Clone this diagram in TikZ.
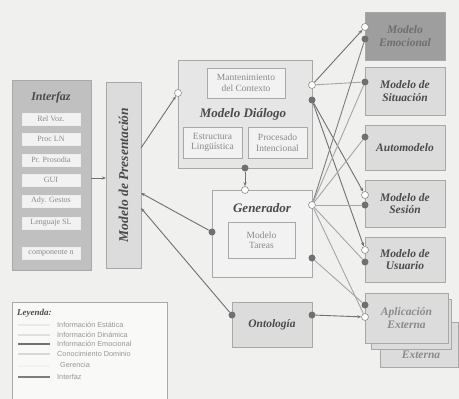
\documentclass[tikz,border=0pt]{standalone}
\usepackage{fontspec}
\setmainfont{Liberation Serif}
\newfontfamily\legfont{Liberation Sans}
\usetikzlibrary{arrows.meta}
\definecolor{bgc}{HTML}{F0F0EE}
\definecolor{boxline}{HTML}{A8A8A8}
\definecolor{boxfill}{HTML}{DCDCDC}
\definecolor{lightfill}{HTML}{E6E6E6}
\definecolor{innerfill}{HTML}{F2F2F2}
\definecolor{darkfill}{HTML}{C0C0C0}
\definecolor{emofill}{HTML}{9E9E9E}
\definecolor{txt}{HTML}{4A4A4A}
\definecolor{softtxt}{HTML}{8A8A8A}
\definecolor{linec}{HTML}{A6A6A6}
\definecolor{dotc}{HTML}{707070}
\tikzset{
  box/.style={draw=boxline, line width=0.9pt, fill=boxfill, inner sep=1pt, align=center,
    font=\fontsize{11.5}{12.5}\selectfont\bfseries\itshape, text=txt},
  inbox/.style={draw=boxline, line width=0.7pt, fill=innerfill, inner sep=1pt, align=center,
    font=\fontsize{9.5}{10.5}\selectfont, text=softtxt},
  ifbox/.style={draw=white!80!boxline, line width=0.6pt, fill=innerfill, inner sep=0pt,
    minimum width=58pt, minimum height=12pt, font=\fontsize{8}{9}\selectfont, text=softtxt},
  ddot/.style={circle, fill=dotc, inner sep=0pt, minimum size=7pt},
  wdot/.style={circle, draw=dotc!80, line width=0.6pt, fill=white, inner sep=0pt, minimum size=7pt},
  conn/.style={draw=linec, line width=0.9pt},
  tip/.style={-{Stealth[length=4pt,width=3pt]}, dotc},
  legline/.style={line width=1.2pt},
  legtxt/.style={anchor=west, inner sep=0pt, font=\legfont\fontsize{7.3}{8}\selectfont, text=softtxt!90}
}
\begin{document}
\begin{tikzpicture}[x=1pt,y=-1pt]
\fill[bgc] (0,0) rectangle (459,399);
\useasboundingbox (0,0) rectangle (459,399);
\begin{scope}
\clip (0,0) rectangle (459,399);

% Interfaz
\node[box, fill=darkfill, minimum width=79pt, minimum height=190pt] (interfaz) at (51.5,175) {};
\node[font=\fontsize{12}{13}\selectfont\bfseries\itshape, text=txt] (iftitle) at (51,98) {Interfaz};
\node[ifbox] (if1) at (51,119) {Rel Voz.};
\node[ifbox] (if2) at (51,139) {Proc LN};
\node[ifbox] (if3) at (51,160) {Pr. Prosodia};
\node[ifbox] (if4) at (51,180) {GUI};
\node[ifbox] (if5) at (51,201) {Ady. Gestos};
\node[ifbox] (if6) at (51,223) {Lenguaje SL};
\node[ifbox] (if7) at (51,253) {componente n};

% Presentacion
\node[box, minimum width=35pt, minimum height=186pt] (pres) at (123.5,175) {};
\node[rotate=90, font=\fontsize{13.5}{14}\selectfont\bfseries\itshape, text=txt] (prestxt) at (123.5,175) {Modelo de Presentación};

% Dialogo
\node[box, fill=lightfill, minimum width=134pt, minimum height=108pt] (dia) at (245,114) {};
\node[inbox, minimum width=78pt, minimum height=30pt] (mant) at (246,83) {Mantenimiento\\del Contexto};
\node[font=\fontsize{13}{14}\selectfont\bfseries\itshape, text=txt] (diatxt) at (243,114) {Modelo Diálogo};
\node[inbox, minimum width=59pt, minimum height=31pt] (estr) at (212.5,142.5) {Estructura\\Lingüística};
\node[inbox, minimum width=59pt, minimum height=31pt] (proc) at (277.5,142.5) {Procesado\\Intencional};

% Generador
\node[box, fill=innerfill, minimum width=100pt, minimum height=87pt] (gen) at (262,233.5) {};
\node[font=\fontsize{13}{14}\selectfont\bfseries\itshape, text=txt] (gentxt) at (262,208) {Generador};
\node[inbox, minimum width=67pt, minimum height=36pt] (tareas) at (261.5,240) {Modelo\\Tareas};

% Ontologia
\node[box, minimum width=80pt, minimum height=45pt] (ont) at (272,324.5) {Ontología};

% Right column
\node[box, fill=emofill, text=txt!80, minimum width=80pt, minimum height=48pt] (emo) at (405,36) {Modelo\\Emocional};
\node[box, minimum width=80pt, minimum height=48pt] (sit) at (405,91) {Modelo de\\Situación};
\node[box, minimum width=80pt, minimum height=45pt] (auto) at (405,147.5) {Automodelo};
\node[box, minimum width=80pt, minimum height=47pt] (ses) at (405,203.5) {Modelo de\\Sesión};
\node[box, minimum width=80pt, minimum height=45pt] (usu) at (405,259.5) {Modelo de\\Usuario};
\node[box, minimum width=78pt, minimum height=45pt] (apl3) at (419,344.5) {};
\node[font=\fontsize{11.5}{12.5}\selectfont\bfseries\itshape, text=softtxt] (apl3txt) at (421,355) {Externa};
\node[box, minimum width=80pt, minimum height=50pt] (apl2) at (411,324) {};
\node[box, text=softtxt, minimum width=83pt, minimum height=50pt] (apl) at (406.5,318) {Aplicación\\Externa};

% Legend
\node[draw=boxline, line width=0.8pt, fill=white!60!bgc, minimum width=155pt, minimum height=110pt, inner sep=0pt] (leg) at (89.5,357) {};
\node[anchor=west, inner sep=0pt, font=\fontsize{9}{10}\selectfont\bfseries\itshape, text=txt] (legt) at (17,313) {Leyenda:};
\coordinate (l1a) at (18,325); \coordinate (l1b) at (50,325);
\coordinate (l2a) at (18,335); \coordinate (l2b) at (50,335);
\coordinate (l3a) at (18,344); \coordinate (l3b) at (50,344);
\coordinate (l4a) at (18,354); \coordinate (l4b) at (50,354);
\coordinate (l5a) at (18,366); \coordinate (l5b) at (50,366);
\coordinate (l6a) at (18,377); \coordinate (l6b) at (50,377);
\draw[legline, draw=white!75!linec] (l1a) -- (l1b);
\draw[legline, draw=white!65!linec] (l2a) -- (l2b);
\draw[legline, draw=dotc] (l3a) -- (l3b);
\draw[legline, draw=white!55!linec] (l4a) -- (l4b);
\draw[legline, draw=white!85!linec] (l5a) -- (l5b);
\draw[legline, draw=dotc!90] (l6a) -- (l6b);
\node[legtxt] (lt1) at (57,325) {Información Estática};
\node[legtxt] (lt2) at (57,335) {Información Dinámica};
\node[legtxt] (lt3) at (57,344) {Información Emocional};
\node[legtxt] (lt4) at (57,354) {Conocimiento Dominio};
\node[legtxt] (lt5) at (60,365) {Gerencia};
\node[legtxt] (lt6) at (57,377) {Interfaz};

% Connection points
\coordinate (ifr) at (91,178);
\coordinate (presl) at (106,178);
\coordinate (p1) at (141,148);
\coordinate (p2) at (141,193);
\coordinate (p3) at (141,208);
\node[wdot] (dial) at (178,93) {};
\node[ddot] (genl) at (212,232) {};
\node[ddot] (ontl) at (232,315) {};
\node[ddot] (diab) at (245,168) {};
\node[wdot] (gent) at (245,190) {};
\node[wdot] (diaw) at (312,85) {};
\node[ddot] (diad) at (312,100) {};
\node[wdot] (genw) at (312,205) {};
\node[ddot] (gend) at (312,258) {};
\node[ddot] (ontr) at (312,315) {};
\node[wdot] (emow) at (365,27) {};
\node[ddot] (emod) at (365,39) {};
\node[ddot] (sitd) at (365,82) {};
\node[ddot] (autod) at (365,137) {};
\node[wdot] (sesw) at (365,195) {};
\node[ddot] (sesd) at (365,205) {};
\node[wdot] (usuw) at (365,250) {};
\node[ddot] (usud) at (365,262) {};
\node[ddot] (apld) at (365,305) {};
\node[wdot] (aplw) at (365,317) {};

% Connectors
\draw[conn, tip] (ifr) -- (presl);
\draw[conn, tip] (p1) -- (dial);
\draw[conn, {Stealth[length=4pt,width=3pt]}-, dotc] (p2) -- (genl);
\draw[conn, {Stealth[length=4pt,width=3pt]}-, dotc] (p3) -- (ontl);
\draw[conn, draw=linec!80!black, tip] (diab) -- (gent);
\draw[conn, draw=dotc, tip] (diaw) -- (emow);
\draw[conn] (diaw) -- (sitd);
\draw[conn, tip] (diad) -- (sesw);
\draw[conn, tip] (diad) -- (usuw);
\draw[conn, draw=dotc!90] (genw) -- (emod);
\draw[conn] (genw) -- (sitd);
\draw[conn] (genw) -- (autod);
\draw[conn] (genw) -- (sesd);
\draw[conn] (genw) -- (usud);
\draw[conn] (genw) -- (aplw);
\draw[conn] (gend) -- (apld);
\draw[conn, tip] (ontr) -- (aplw);
\end{scope}
\end{tikzpicture}
\end{document}
